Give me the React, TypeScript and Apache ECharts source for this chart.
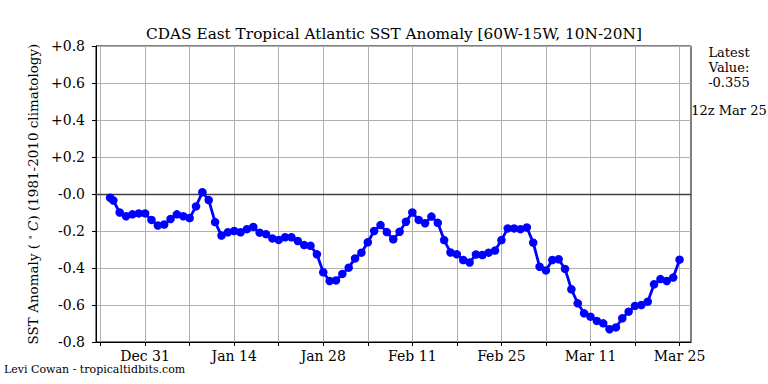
import React, { useEffect, useRef } from "react";
import * as echarts from "echarts";

const titleText = "CDAS East Tropical Atlantic SST Anomaly [60W-15W, 10N-20N]";
const creditText = "Levi Cowan - tropicaltidbits.com";
const latestText = "Latest\nValue:\n-0.355";
const latestTime = "12z Mar 25";

// days relative to Dec 31 (day 0)
const leadDay = -5.5;
const leadValue = -0.02;
const firstDay = -5;
const values = [
  -0.035, -0.1, -0.12, -0.11, -0.105, -0.105, -0.14, -0.17, -0.165, -0.135,
  -0.11, -0.12, -0.13, -0.067, 0.01, -0.033, -0.152, -0.225, -0.207, -0.2,
  -0.207, -0.19, -0.178, -0.209, -0.217, -0.24, -0.248, -0.234, -0.234, -0.254,
  -0.276, -0.28, -0.326, -0.423, -0.47, -0.467, -0.432, -0.398, -0.348, -0.317,
  -0.261, -0.2, -0.168, -0.206, -0.245, -0.204, -0.15, -0.1, -0.14, -0.158,
  -0.122, -0.156, -0.249, -0.316, -0.326, -0.357, -0.37, -0.327, -0.33, -0.317,
  -0.306, -0.249, -0.186, -0.186, -0.19, -0.181, -0.263, -0.393, -0.413, -0.357,
  -0.353, -0.405, -0.515, -0.591, -0.645, -0.663, -0.686, -0.699, -0.731, -0.721,
  -0.672, -0.636, -0.605, -0.6, -0.582, -0.488, -0.46, -0.47, -0.452, -0.355,
];

const tickDays = [-7, 0, 7, 14, 21, 28, 35, 42, 49, 56, 63, 70, 77, 84];
const labelDays = [0, 14, 28, 42, 56, 70, 84];
const labelTexts = ["Dec 31", "Jan 14", "Jan 28", "Feb 11", "Feb 25", "Mar 11", "Mar 25"];

const xMin = -7.72;
const xMax = 85.8;
const yMin = -0.8;
const yMax = 0.8;
const yStep = 0.2;

const FONT = "DejaVu Serif";

function fmtY(v: number): string {
  const r = Math.round(v * 10) / 10;
  if (Math.abs(r) < 1e-9) return "-0.0";
  return r > 0 ? "+" + r.toFixed(1) : r.toFixed(1);
}

export default function App() {
  const ref = useRef<HTMLDivElement>(null);
  useEffect(() => {
    if (!ref.current) return;
    const chart = echarts.init(ref.current, null, { renderer: "svg" });
    const data: number[][] = [[leadDay, leadValue]].concat(
      values.map((v, i) => [firstDay + i, v])
    );
    chart.setOption({
      animation: false,
      backgroundColor: "#ffffff",
      title: {
        text: titleText,
        left: 389,
        textAlign: "center",
        top: 21,
        textStyle: { fontFamily: FONT, fontSize: 15.3, fontWeight: "normal", color: "#000" },
      },
      grid: {
        left: 96,
        right: 77,
        top: 46,
        bottom: 42,
        show: true,
        borderColor: "#000",
        borderWidth: 1,
        backgroundColor: "#fff",
      },
      xAxis: {
        type: "value",
        min: xMin,
        max: xMax,
        axisLine: { onZero: false, lineStyle: { color: "#000", width: 1 } },
        axisTick: {
          show: true,
          inside: false,
          length: 4,
          customValues: tickDays,
          lineStyle: { color: "#000", width: 1 },
        },
        axisLabel: {
          customValues: labelDays,
          margin: 7,
          color: "#000",
          fontFamily: FONT,
          fontSize: 14,
          formatter: (v: number) => {
            const idx = labelDays.indexOf(Math.round(v));
            return idx >= 0 ? labelTexts[idx] : "";
          },
        },
        splitLine: { show: false },
      },
      yAxis: {
        type: "value",
        min: yMin,
        max: yMax,
        interval: yStep,
        name: "SST Anomaly ( {sup|∘} {it|C}) (1981-2010 climatology)",
        nameLocation: "middle",
        nameGap: 50,
        nameTextStyle: {
          fontFamily: FONT,
          fontSize: 13.5,
          color: "#000",
          rich: {
            sup: { fontFamily: FONT, fontSize: 9, color: "#000", padding: [0, 0, 6, 0] },
            it: { fontFamily: FONT, fontSize: 13.5, fontStyle: "italic", color: "#000" },
          },
        },
        axisLine: { show: true, onZero: false, lineStyle: { color: "#000", width: 1 } },
        axisTick: { show: true, inside: false, length: 4, lineStyle: { color: "#000", width: 1 } },
        axisLabel: {
          margin: 11,
          color: "#000",
          fontFamily: FONT,
          fontSize: 14,
          formatter: fmtY,
        },
        splitLine: { show: true, lineStyle: { color: "#b0b0b0", width: 1 } },
      },
      graphic: [
        {
          type: "text",
          left: 4,
          top: 364,
          style: { text: creditText, fontFamily: FONT, fontSize: 11, fill: "#000" },
        },
        {
          type: "text",
          x: 729,
          y: 45,
          style: {
            text: latestText,
            fontFamily: FONT,
            fontSize: 13,
            lineHeight: 15,
            fill: "#000",
            align: "center",
          },
        },
        {
          type: "text",
          x: 729,
          y: 104,
          style: {
            text: latestTime,
            fontFamily: FONT,
            fontSize: 13,
            fill: "#000",
            align: "center",
          },
        },
      ],
      series: [
        {
          type: "line",
          data: [],
          silent: true,
          z: 1,
          markLine: {
            silent: true,
            symbol: ["none", "none"],
            label: { show: false },
            lineStyle: { color: "#b0b0b0", width: 1, type: "solid" },
            data: tickDays.map((d) => ({ xAxis: d })),
          },
        },
        {
          type: "line",
          data: [],
          silent: true,
          z: 2,
          markLine: {
            silent: true,
            symbol: ["none", "none"],
            label: { show: false },
            lineStyle: { color: "#404040", width: 1.3, type: "solid" },
            data: [{ yAxis: 0 }],
          },
        },
        {
          type: "line",
          data,
          symbol: "circle",
          symbolSize: 8.5,
          showSymbol: true,
          lineStyle: { color: "#0000ff", width: 2.8 },
          itemStyle: { color: "#0000ff" },
          z: 5,
        },
      ],
    });
    return () => chart.dispose();
  }, []);
  return <div ref={ref} style={{ width: 768, height: 384, position: "absolute", left: 0, top: 0 }} />;
}
